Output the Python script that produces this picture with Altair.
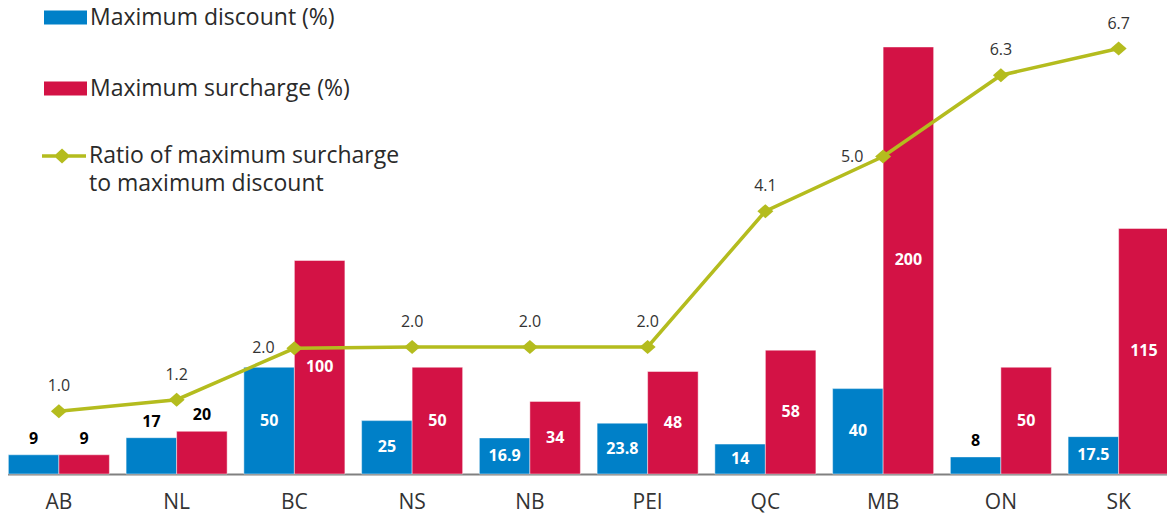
import altair as alt
import pandas as pd

# ---- data ----
PROVINCES = ["AB", "NL", "BC", "NS", "NB", "PEI", "QC", "MB", "ON", "SK"]
MAX_DISCOUNT = [9, 17, 50, 25, 16.9, 23.8, 14, 40, 8, 17.5]
MAX_SURCHARGE = [9, 20, 100, 50, 34, 48, 58, 200, 50, 115]
RATIO = [0.99, 1.17, 1.98, 2.0, 2.0, 2.0, 4.14, 5.0, 6.28, 6.7]
SERIES = ["Maximum discount (%)", "Maximum surcharge (%)"]
LINE_SERIES = "Ratio of maximum surcharge|\u00a0to maximum discount"
# bar labels drawn above the bar (black) instead of inside (white)
LABEL_ABOVE = [("AB", 0), ("AB", 1), ("NL", 0), ("NL", 1), ("ON", 0)]
# ratio labels drawn to the left of the marker instead of above
RATIO_LABEL_LEFT = ["BC", "MB"]

BLUE = "#0080c8"
RED = "#d31245"
GREEN = "#b4bc1e"
TEXT = "#2a2a2a"
FONT = "Open Sans"

rows = []
for i, p in enumerate(PROVINCES):
    for s, vals in enumerate([MAX_DISCOUNT, MAX_SURCHARGE]):
        v = vals[i]
        rows.append({
            "province": p,
            "series": SERIES[s],
            "value": v,
            "mid": v / 2,
            "label": f"{v:g}",
            "above": (p, s) in LABEL_ABOVE,
        })
bar_df = pd.DataFrame(rows)

ratio_df = pd.DataFrame({
    "province": PROVINCES,
    "ratio": RATIO,
    "series": [LINE_SERIES] * len(PROVINCES),
    "left": [p in RATIO_LABEL_LEFT for p in PROVINCES],
})

Y_MAX = 222.0
R_MAX = 7.465

x_enc = alt.X(
    "province:N", sort=PROVINCES,
    scale=alt.Scale(paddingInner=0.142, paddingOuter=0.071),
    axis=alt.Axis(title=None, labelAngle=0, ticks=False, grid=False,
                  domainColor="#808080", domainWidth=2,
                  labelFontSize=21, labelFont=FONT, labelColor="#333333",
                  labelPadding=17),
)
xoff = alt.XOffset("series:N", sort=SERIES,
                   scale=alt.Scale(paddingInner=0, paddingOuter=0))
ybar = lambda f: alt.Y(f, scale=alt.Scale(domain=[0, Y_MAX], nice=False), axis=None)
yrat = alt.Y("ratio:Q", scale=alt.Scale(domain=[0, R_MAX], nice=False), axis=None)

RECT_PATH = "M-1,-0.326L1,-0.326L1,0.326L-1,0.326Z"
LINE_PATH = ("M-1,-0.08L1,-0.08L1,0.08L-1,0.08Z"
             "M-0.46,0L-0.09,-0.34L0.28,0L-0.09,0.34Z")
DIAMOND = "M-1,0L0,-0.875L1,0L0,0.875Z"

bars = alt.Chart(bar_df).mark_bar(stroke="white", strokeWidth=1, strokeOpacity=0.45).encode(
    x=x_enc, xOffset=xoff, y=ybar("value:Q"),
    fill=alt.Fill(
        "series:N", sort=SERIES,
        scale=alt.Scale(domain=SERIES, range=[BLUE, RED]),
        legend=alt.Legend(
            title=None, orient="none", legendX=44, legendY=-4,
            direction="vertical", symbolType=RECT_PATH, symbolSize=1849,
            symbolStrokeWidth=0, labelFontSize=23, labelFont=FONT,
            labelColor=TEXT, rowPadding=37, labelOffset=3, labelLimit=0,
        ),
    ),
)

inside = alt.Chart(bar_df).transform_filter("!datum.above").mark_text(
    color="white", fontWeight="bold", fontSize=16, font=FONT, baseline="middle"
).encode(x=x_enc, xOffset=xoff, y=ybar("mid:Q"), text="label:N")

outside = alt.Chart(bar_df).transform_filter("datum.above").mark_text(
    color="black", fontWeight="bold", fontSize=16, font=FONT, baseline="middle", dy=-16
).encode(x=x_enc, xOffset=xoff, y=ybar("value:Q"), text="label:N")

line = alt.Chart(ratio_df).mark_line(strokeWidth=3.5, color=GREEN).encode(
    x=x_enc, y=yrat
)

points = alt.Chart(ratio_df).mark_point(
    filled=True, shape=DIAMOND, size=256, opacity=1
).encode(
    x=x_enc, y=yrat,
    color=alt.Color(
        "series:N", scale=alt.Scale(range=[GREEN]),
        legend=alt.Legend(
            title=None, orient="none", legendX=42, legendY=134,
            symbolType=LINE_PATH, symbolSize=1936, symbolStrokeWidth=0,
            labelExpr="split(datum.label, '|')",
            labelFontSize=23, labelFont=FONT, labelColor=TEXT,
            labelOffset=3, labelLimit=0,
        ),
    ),
)

rlabel_above = alt.Chart(ratio_df).transform_filter("!datum.left").mark_text(
    dy=-25, fontSize=16, font=FONT, color="#333333", baseline="middle"
).encode(x=x_enc, y=yrat, text=alt.Text("ratio:Q", format=".1f"))

rlabel_left = alt.Chart(ratio_df).transform_filter("datum.left").mark_text(
    dx=-31, fontSize=16, font=FONT, color="#333333", baseline="middle"
).encode(x=x_enc, y=yrat, text=alt.Text("ratio:Q", format=".1f"))

chart = alt.layer(
    bars, inside, outside, line, points, rlabel_above, rlabel_left
).resolve_scale(y="independent").properties(
    width=1177.5, height=474,
    padding={"left": -8, "top": -8, "right": -11, "bottom": 40},
    autosize=alt.AutoSizeParams(type="none"),
).configure(
    style={"guide-label": {"lineHeight": 28}}
).configure_view(stroke=None)

chart.save("out.html", embed_options={"renderer": "svg", "actions": False})
